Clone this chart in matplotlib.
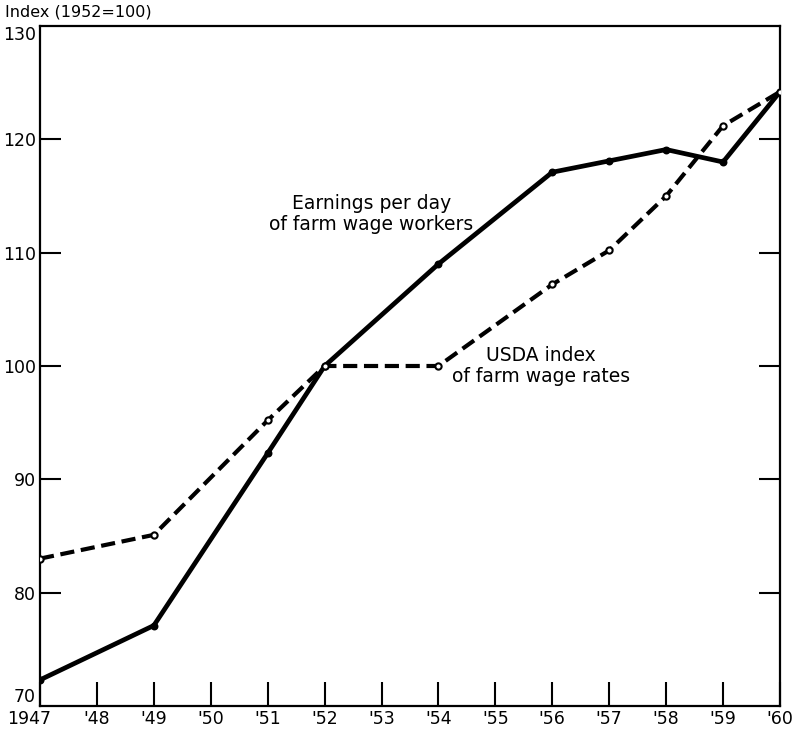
import matplotlib
matplotlib.use("Agg")
import matplotlib.pyplot as plt
import matplotlib.transforms as mtransforms

years = [1947, 1949, 1951, 1952, 1954, 1956, 1957, 1958, 1959, 1960]
earnings = [72.3, 77.1, 92.3, 100.0, 109.0, 117.1, 118.1, 119.1, 118.0, 124.2]
usda = [83.0, 85.1, 95.2, 100.0, 100.0, 107.2, 110.2, 115.0, 121.2, 124.2]
xtick_years = list(range(1947, 1961))
xtick_labels = ["1947"] + ["'%02d" % (y % 100) for y in range(1948, 1961)]
ytick_vals = [70, 80, 90, 100, 110, 120, 130]

fig = plt.figure(figsize=(7.95, 7.29), dpi=100)
ax = fig.add_axes([0.0503, 0.0316, 0.9308, 0.9327])

ax.plot(years, earnings, color="black", lw=3.4, solid_capstyle="round",
        marker="o", ms=4.5, mfc="black", mec="black", mew=1.2, zorder=3)
ax.plot(years, usda, color="black", lw=3.0, dashes=(3.4, 1.6),
        marker="o", ms=4.5, mfc="white", mec="black", mew=1.5, zorder=3)

ax.set_xlim(1947, 1960)
ax.set_ylim(70, 130)

ax.set_xticks(xtick_years)
ax.set_xticklabels(xtick_labels, fontsize=12.5)
ax.tick_params(axis="x", direction="in", length=17, width=1.5, pad=3)

ax.set_yticks(ytick_vals)
ax.set_yticklabels([str(v) for v in ytick_vals], fontsize=12.5)
ax.tick_params(axis="y", direction="in", length=15, width=1.5, pad=3,
               right=True)
yticks = ax.yaxis.get_major_ticks()
for t in (yticks[0], yticks[-1]):
    t.tick1line.set_visible(False)
    t.tick2line.set_visible(False)
ylabels = ax.get_yticklabels()
ylabels[0].set_va("bottom")
ylabels[-1].set_va("top")
xlabels = ax.get_xticklabels()
xlabels[0].set_transform(xlabels[0].get_transform() +
                         mtransforms.ScaledTranslation(-8 / 72, 0, fig.dpi_scale_trans))

for s in ax.spines.values():
    s.set_linewidth(1.6)

fig.text(0.006, 0.994, "Index (1952=100)", fontsize=11.5, va="top", ha="left")

ax.text(1952.82, 113.4, "Earnings per day\nof farm wage workers", fontsize=13.5,
        ha="center", va="center", linespacing=1.1)
ax.text(1955.8, 100.0, "USDA index\nof farm wage rates", fontsize=13.5,
        ha="center", va="center", linespacing=1.1)

fig.savefig("out.png", dpi=100)
